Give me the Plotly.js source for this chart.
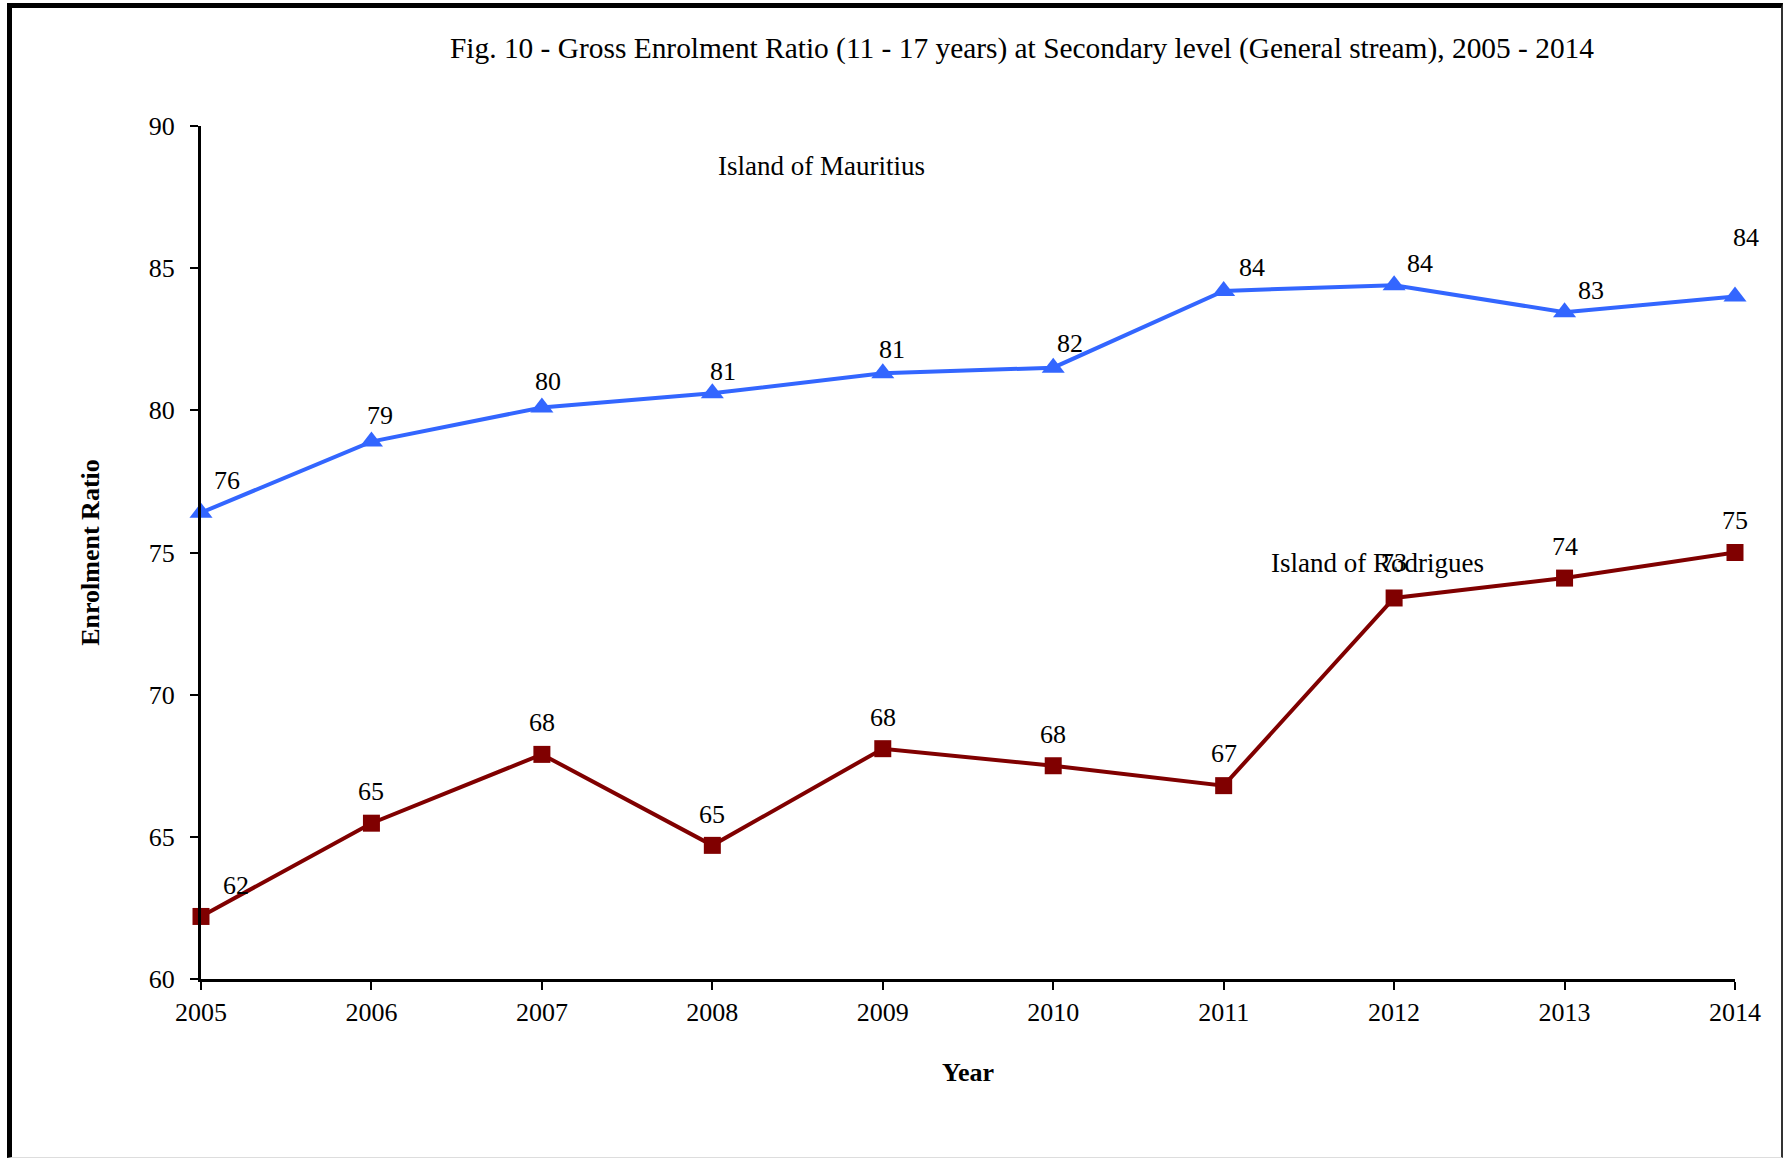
<!DOCTYPE html>
<html>
<head>
<meta charset="utf-8">
<script src="https://cdn.plot.ly/plotly-3.0.1.min.js"></script>
<style>
  html, body { margin: 0; padding: 0; background: #fff; }
  #wrap { position: relative; width: 1785px; height: 1159px; }
  #chart { position: absolute; left: 0; top: 0; width: 1785px; height: 1159px; }
  #frame { position: absolute; left: 7px; top: 3px; width: 1776px; height: 1155px;
           border-left: 5px solid #000; border-top: 5px solid #000;
           border-right: 2px solid #333; border-bottom: 1px solid #ddd;
           box-sizing: border-box; pointer-events: none; }
</style>
</head>
<body>
<div id="wrap">
  <div id="chart"></div>
  <div id="frame"></div>
</div>
<script>
// ---- Data ----
const years = [2005, 2006, 2007, 2008, 2009, 2010, 2011, 2012, 2013, 2014];
const mauritius = [76.4, 78.9, 80.1, 80.6, 81.3, 81.5, 84.2, 84.4, 83.45, 84.0];
const rodrigues = [62.2, 65.48, 67.9, 64.7, 68.1, 67.5, 66.8, 73.4, 74.1, 75.0];
const seriesNames = ["Island of Mauritius", "Island of Rodrigues"];
const yTicks = [60, 65, 70, 75, 80, 85, 90];

// ---- Label offsets (layout only, pixels) ----
const shiftMau = [[26,-32],[9,-26],[6,-26],[11,-22],[9,-24],[17,-24],[28,-23],[26,-22],[26,-22],[11,-59]];
const shiftRod = [[35,-31],[0,-32],[0,-32],[0,-31],[0,-31],[0,-31],[0,-32],[0,-35],[0,-32],[0,-32]];

const FONT = "Liberation Serif, Times New Roman, serif";

const traces = [
  {
    x: years, y: mauritius, name: seriesNames[0], type: "scatter", mode: "lines+markers",
    line: { color: "#3366FF", width: 4 },
    marker: { symbol: "triangle-up", size: 20, color: "#3366FF" },
    cliponaxis: false, showlegend: false
  },
  {
    x: years, y: rodrigues, name: seriesNames[1], type: "scatter", mode: "lines+markers",
    line: { color: "#800000", width: 4 },
    marker: { symbol: "square", size: 17, color: "#800000" },
    cliponaxis: false, showlegend: false
  }
];

const annotations = [];
years.forEach((yr, i) => {
  annotations.push({
    x: yr, y: mauritius[i], xref: "x", yref: "y",
    text: String(Math.round(mauritius[i])), showarrow: false,
    xshift: shiftMau[i][0], yshift: -shiftMau[i][1],
    font: { family: FONT, size: 26, color: "#000" }
  });
  annotations.push({
    x: yr, y: rodrigues[i], xref: "x", yref: "y",
    text: String(Math.round(rodrigues[i])), showarrow: false,
    xshift: shiftRod[i][0], yshift: -shiftRod[i][1],
    font: { family: FONT, size: 26, color: "#000" }
  });
});
annotations.push({
  x: 2008.64, y: 88.6, xref: "x", yref: "y", text: seriesNames[0], showarrow: false,
  font: { family: FONT, size: 27, color: "#000" }
});
annotations.push({
  x: 2011.9, y: 74.63, xref: "x", yref: "y", text: seriesNames[1], showarrow: false,
  font: { family: FONT, size: 27, color: "#000" }
});

const layout = {
  width: 1785, height: 1159,
  paper_bgcolor: "#fff", plot_bgcolor: "#fff",
  margin: { l: 201, r: 50, t: 126, b: 180, pad: 0 },
  font: { family: FONT, size: 26, color: "#000" },
  title: {
    text: "Fig. 10 - Gross Enrolment Ratio (11 - 17 years) at Secondary level (General stream), 2005 - 2014",
    font: { family: FONT, size: 29.4, color: "#000" },
    x: 1022 / 1785, xanchor: "center", y: 1 - 48 / 1159, yanchor: "middle"
  },
  xaxis: {
    range: [2005, 2014], tickvals: years, ticktext: years.map(String),
    showline: true, linecolor: "#000", linewidth: 3,
    ticks: "outside", ticklen: 8, tickwidth: 2, tickcolor: "#000",
    showgrid: false, zeroline: false,
    tickfont: { family: FONT, size: 26, color: "#000" },
    title: { text: "<b>Year</b>", font: { family: FONT, size: 26, color: "#000" }, standoff: 37 },
    automargin: false
  },
  yaxis: {
    range: [60, 90], tickvals: yTicks,
    showline: true, linecolor: "#000", linewidth: 3,
    ticks: "outside", ticklen: 8, tickwidth: 2, tickcolor: "#000",
    showgrid: false, zeroline: false,
    tickfont: { family: FONT, size: 26, color: "#000" },
    ticklabelstandoff: 10,
    title: { text: "<b>Enrolment Ratio</b>", font: { family: FONT, size: 26, color: "#000" }, standoff: 42 },
    automargin: false
  },
  annotations: annotations,
  showlegend: false
};

Plotly.newPlot("chart", traces, layout, { displayModeBar: false, staticPlot: true });
</script>
</body>
</html>
